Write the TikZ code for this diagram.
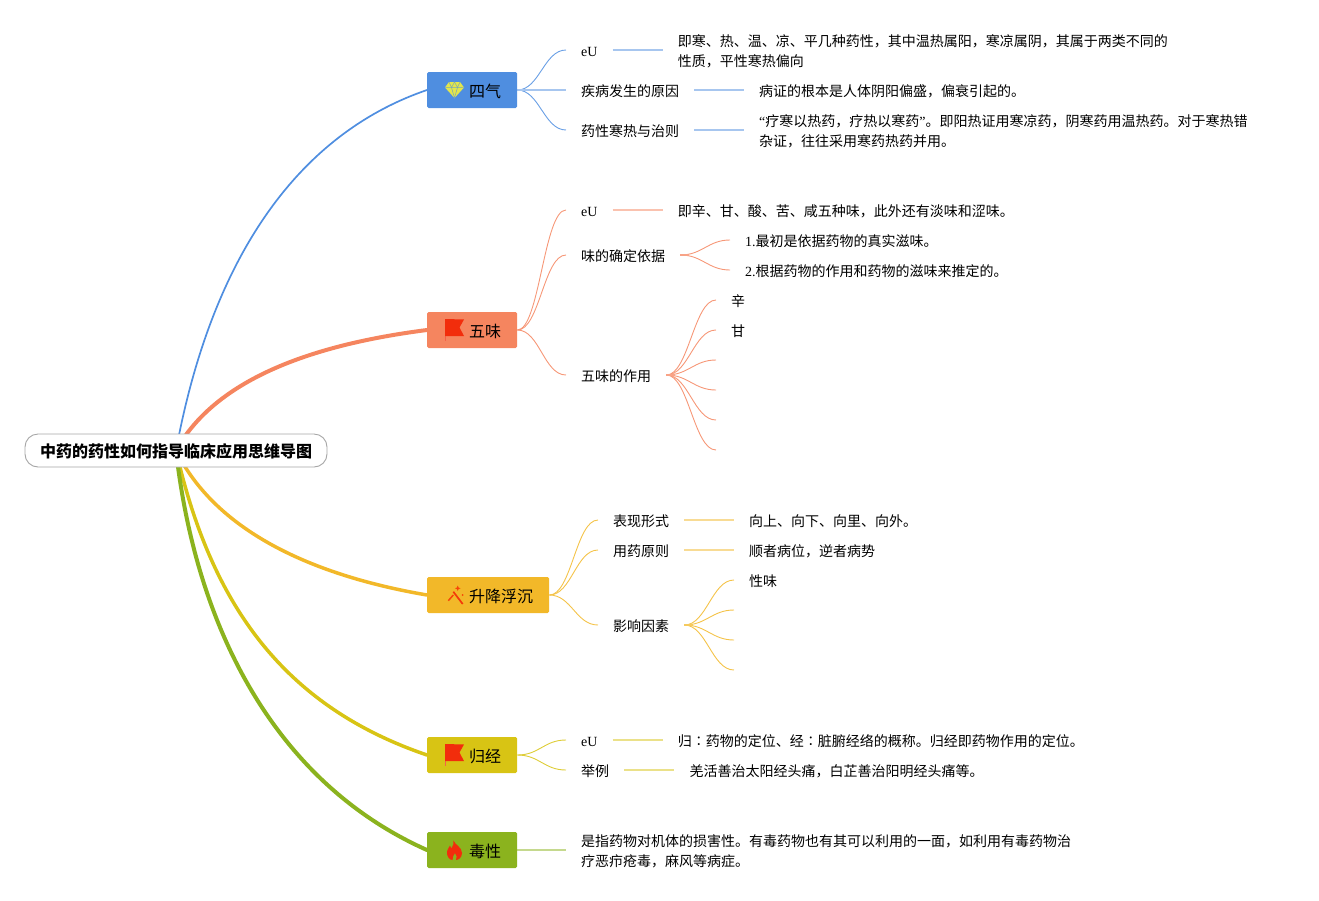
\documentclass[tikz,border=0pt]{standalone}
\usepackage{fontspec}
\setmainfont{Liberation Serif}
\newfontfamily\cjk{Noto Sans CJK SC}
\usetikzlibrary{calc}
\usetikzlibrary{positioning}
\pgfdeclarelayer{background}
\pgfsetlayers{background,main}
\definecolor{qiblue}{HTML}{4F8EE0}
\definecolor{wured}{HTML}{F5855F}
\definecolor{shenggold}{HTML}{F2B829}
\definecolor{guiyellow}{HTML}{D8C414}
\definecolor{dugreen}{HTML}{8BB31E}
\definecolor{iconred}{HTML}{F22D0C}
\definecolor{gemyellow}{HTML}{E3E64B}
\tikzset{
	rootbox/.style={draw=black!35,line width=.9pt,fill=white,rounded corners=13pt,minimum width=302pt,minimum height=33pt,inner sep=0pt,align=center,font=\fontsize{16}{20}\selectfont\cjk\bfseries,
		execute at begin node={\rule{0pt}{16.5pt}},execute at end node={\rule[-2.5pt]{0pt}{0pt}}},
	mainbox/.style={rounded corners=1.5pt,minimum height=36pt,inner xsep=16pt,inner ysep=0pt,anchor=west,font=\fontsize{16}{20}\selectfont\cjk,
		execute at begin node={\rule{0pt}{16.5pt}},execute at end node={\rule[-2.5pt]{0pt}{0pt}}},
	leaf/.style={inner xsep=15pt,inner ysep=0pt,anchor=west,align=left,font=\fontsize{14}{20}\selectfont\cjk,
		execute at begin node={\rule{0pt}{15pt}},execute at end node={\rule[-2.4pt]{0pt}{0pt}}},
	twolines/.style={leaf,execute at begin node={\rule{0pt}{34.5pt}}},
	trunk/.style={line width=#1,line cap=round},
	twig/.style={line width=.9pt,draw=#1!85},
	stem/.style={line width=1.6pt,draw=#1!50},
	flagicon/.pic={
		\fill [iconred!75] (0,-11) rectangle (1,11);
		\fill [iconred] (0,-11) -- (19,-10.5) -- (14.5,-2.5) -- (19,6) -- (0,6) -- cycle;
	},
	gemicon/.pic={
		\fill [gemyellow] (4,-8) -- (15,-8) -- (19,-2.5) -- (9.5,8) -- (0,-2.5) -- cycle;
		\draw [qiblue!70!gemyellow,line width=.5pt] (0,-2.5) -- (19,-2.5) (6.5,-2.5) -- (9.5,8) -- (12.5,-2.5)
			(4,-8) -- (6.5,-2.5) -- (9.5,-8) -- (12.5,-2.5) -- (15,-8);
	},
	wandicon/.pic={
		\draw [iconred!85!orange,line width=1.7pt] (8.3,-3.3) -- (17.7,9);
		\draw [iconred!70!orange,line width=1.5pt] (3.3,5.7) -- (8.3,0);
		\fill [iconred!70!orange] (12.7,-9.5) -- (13.5,-7.5) -- (15.5,-6.7) -- (13.5,-5.9) -- (12.7,-3.9) -- (11.9,-5.9) -- (9.9,-6.7) -- (11.9,-7.5) -- cycle;
		\fill [iconred!70!orange] (17.7,0) circle (1pt);
	},
	flameicon/.pic={
		\fill [iconred] (8.5,-9.5) .. controls (10,-5) and (17,-3) .. (17,3)
			.. controls (17,8) and (13,10) .. (11,10) .. controls (12,8) and (12,5) .. (10,3)
			.. controls (9,5) and (7,7) .. (7.5,10) .. controls (4,10) and (2,6) .. (2,3)
			.. controls (2,-1) and (4,-2) .. (5,-4.5) .. controls (6,-3.5) and (6,-2.5) .. (6.5,-1.5)
			.. controls (8,-4) and (9,-7) .. (8.5,-9.5) -- cycle;
	}
}
\begin{document}
\begin{tikzpicture}[x=1pt,y=-1pt]
	\useasboundingbox (0,0) rectangle (1319,900);

	\node [rootbox] (root) at (176,450.5) {中药的药性如何指导临床应用思维导图};

	% branches
	\node [mainbox,fill=qiblue]     (qi)    at (427,90)  {\hspace*{26pt}四气};
	\node [mainbox,fill=wured]      (wu)    at (427,330) {\hspace*{26pt}五味};
	\node [mainbox,fill=shenggold]  (sheng) at (427,595) {\hspace*{26pt}升降浮沉};
	\node [mainbox,fill=guiyellow]  (gui)   at (427,755) {\hspace*{26pt}归经};
	\node [mainbox,fill=dugreen]    (du)    at (427,850) {\hspace*{26pt}毒性};

	\pic at ($(qi.west)+(18,0)$)    {gemicon};
	\pic at ($(wu.west)+(18,0)$)    {flagicon};
	\pic at ($(sheng.west)+(18,0)$) {wandicon};
	\pic at ($(gui.west)+(18,0)$)   {flagicon};
	\pic at ($(du.west)+(18,0)$)    {flameicon};

	% si qi
	\node [leaf] (qiA) at (566,50)  {{\normalfont eU}};
	\node [leaf] (qiB) at (566,90)  {疾病发生的原因};
	\node [leaf] (qiC) at (566,130) {药性寒热与治则};
	\node [twolines,right=50pt of qiA] (qiAtext) {即寒、热、温、凉、平几种药性，其中温热属阳，寒凉属阴，其属于两类不同的\\性质，平性寒热偏向};
	\node [leaf,right=49.5pt of qiB] (qiBtext) {病证的根本是人体阴阳偏盛，偏衰引起的。};
	\node [twolines,right=49.5pt of qiC] (qiCtext) {{\normalfont “}疗寒以热药，疗热以寒药{\normalfont ”}。即阳热证用寒凉药，阴寒药用温热药。对于寒热错\\杂证，往往采用寒药热药并用。};

	% wu wei
	\node [leaf] (wuA) at (566,210) {{\normalfont eU}};
	\node [leaf] (wuB) at (566,255) {味的确定依据};
	\node [leaf] (wuC) at (566,375) {五味的作用};
	\node [leaf,right=50pt of wuA] (wuAtext) {即辛、甘、酸、苦、咸五种味，此外还有淡味和涩味。};
	\node [leaf] (wuBa) at (730,240) {{\normalfont 1.}最初是依据药物的真实滋味。};
	\node [leaf] (wuBb) at (730,270) {{\normalfont 2.}根据药物的作用和药物的滋味来推定的。};
	\node [leaf] (wuCa) at (716,300) {辛};
	\node [leaf] (wuCb) at (716,330) {甘};
	\coordinate (wuCc) at (716,360);
	\coordinate (wuCd) at (716,390);
	\coordinate (wuCe) at (716,420);
	\coordinate (wuCf) at (716,450);

	% sheng jiang fu chen
	\node [leaf] (shengA) at (598,520) {表现形式};
	\node [leaf] (shengB) at (598,550) {用药原则};
	\node [leaf] (shengC) at (598,625) {影响因素};
	\node [leaf,right=49.5pt of shengA] (shengAtext) {向上、向下、向里、向外。};
	\node [leaf,right=49.5pt of shengB] (shengBtext) {顺者病位，逆者病势};
	\node [leaf] (shengCa) at (734,580) {性味};
	\coordinate (shengCb) at (734,610);
	\coordinate (shengCc) at (734,640);
	\coordinate (shengCd) at (734,670);

	% gui jing
	\node [leaf] (guiA) at (566,740) {{\normalfont eU}};
	\node [leaf] (guiB) at (566,770) {举例};
	\node [leaf,right=50pt of guiA] (guiAtext) {归∶药物的定位、经∶脏腑经络的概称。归经即药物作用的定位。};
	\node [leaf,right=50pt of guiB] (guiBtext) {羌活善治太阳经头痛，白芷善治阳明经头痛等。};

	% du xing
	\node [twolines] (duA) at (566,850) {是指药物对机体的损害性。有毒药物也有其可以利用的一面，如利用有毒药物治\\疗恶疖疮毒，麻风等病症。};

	\begin{pgfonlayer}{background}
		\draw [trunk=1.7pt,qiblue]     (root.center) .. controls (215,240) and (310,130) .. (qi.west);
		\draw [trunk=4pt,wured]        (root.center) .. controls (215,380) and (310,345) .. (wu.west);
		\draw [trunk=3.5pt,shenggold]  (root.center) .. controls (215,530) and (310,575) .. (sheng.west);
		\draw [trunk=3.5pt,guiyellow]  (root.center) .. controls (210,600) and (280,705) .. (gui.west);
		\draw [trunk=4pt,dugreen]      (root.center) .. controls (195,620) and (270,780) .. (du.west);

		\foreach \from/\to/\col in {
			qi/qiA/qiblue, qi/qiC/qiblue,
			wu/wuA/wured, wu/wuB/wured, wu/wuC/wured,
			wuB/wuBa/wured, wuB/wuBb/wured,
			wuC/wuCa/wured, wuC/wuCb/wured,
			sheng/shengA/shenggold, sheng/shengB/shenggold, sheng/shengC/shenggold,
			shengC/shengCa/shenggold,
			gui/guiA/guiyellow, gui/guiB/guiyellow} {
			\draw [twig=\col] (\from.east) .. controls +(22,0) and +(-22,0) .. (\to.west);
		}
		\foreach \from/\to/\col in {
			wuC/wuCc/wured, wuC/wuCd/wured, wuC/wuCe/wured, wuC/wuCf/wured,
			shengC/shengCb/shenggold, shengC/shengCc/shenggold, shengC/shengCd/shenggold} {
			\draw [twig=\col] (\from.east) .. controls +(22,0) and +(-22,0) .. (\to);
		}
		\foreach \from/\to/\col in {
			qi/qiB/qiblue, qiA/qiAtext/qiblue, qiB/qiBtext/qiblue, qiC/qiCtext/qiblue,
			wuA/wuAtext/wured,
			shengA/shengAtext/shenggold, shengB/shengBtext/shenggold,
			guiA/guiAtext/guiyellow, guiB/guiBtext/guiyellow, du/duA/dugreen} {
			\draw [stem=\col] (\from.east) -- (\to.west);
		}
		% short thick starts of the fans
		\foreach \from/\col in {wuB/wured, wuC/wured, shengC/shenggold} {
			\draw [line width=1.6pt,\col!75] (\from.east) -- ++(9,0);
		}
	\end{pgfonlayer}
\end{tikzpicture}
\end{document}
